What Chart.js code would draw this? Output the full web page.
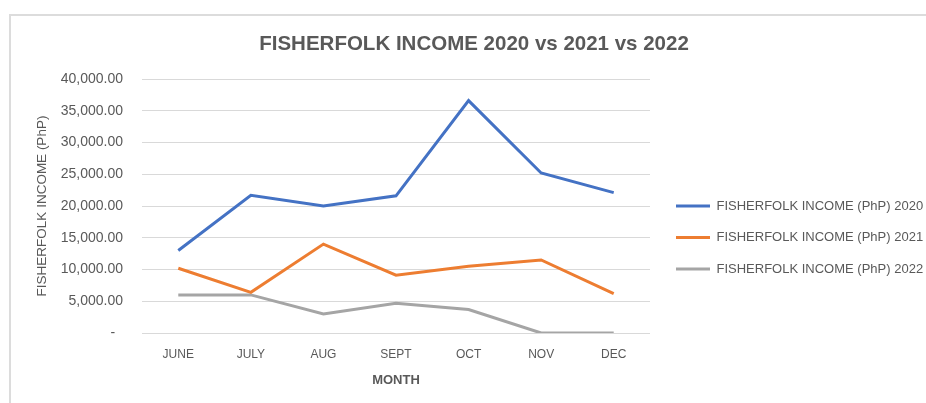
<!DOCTYPE html>
<html>
<head>
<meta charset="utf-8">
<script src="https://cdn.jsdelivr.net/npm/chart.js@4/dist/chart.umd.min.js"></script>
<style>
  html, body { margin: 0; padding: 0; background: #fff; }
  body { width: 926px; height: 403px; position: relative; overflow: hidden; }
  #frame { position: absolute; left: 9px; top: 14px; width: 1000px; height: 500px;
           border-left: 2px solid #dcdcdc; border-top: 2px solid #dcdcdc; }
  #chart { position: absolute; left: 0; top: 0; }
</style>
</head>
<body>
<div id="frame"></div>
<canvas id="chart" width="926" height="403"></canvas>
<script>
const months = ['JUNE', 'JULY', 'AUG', 'SEPT', 'OCT', 'NOV', 'DEC'];
const income2020 = [13000, 21700, 20000, 21600, 36600, 25200, 22100];
const income2021 = [10200, 6400, 14000, 9100, 10500, 11500, 6200];
const income2022 = [6000, 6000, 3000, 4700, 3700, 0, 0];

const grey = '#595959';
const font = 'Liberation Sans';

const makeSet = (label, data, color) => ({
  label: label,
  data: data,
  borderColor: color,
  backgroundColor: color,
  borderWidth: 3,
  pointRadius: 0,
  tension: 0
});

// fixed legend width, and push it down/right a bit like the excel one
const legendPlace = {
  id: 'legendPlace',
  beforeInit(chart) {
    const legend = chart.legend;
    const fit = legend.fit;
    legend.fit = function () {
      fit.call(this);
      this.width = 268;
    };
  },
  afterLayout(chart) {
    const lg = chart.legend;
    lg.top += 36;
    lg.bottom += 36;
    lg.left += 7.5;
    lg.right += 7.5;
  }
};

new Chart(document.getElementById('chart'), {
  type: 'line',
  data: {
    labels: months,
    datasets: [
      makeSet('FISHERFOLK INCOME (PhP) 2020', income2020, '#4472C4'),
      makeSet('FISHERFOLK INCOME (PhP) 2021', income2021, '#ED7D31'),
      makeSet('FISHERFOLK INCOME (PhP) 2022', income2022, '#A5A5A5')
    ]
  },
  plugins: [legendPlace],
  options: {
    responsive: false,
    animation: false,
    layout: { padding: { left: 30, right: 8, top: 0, bottom: 0 } },
    plugins: {
      title: {
        display: true,
        text: 'FISHERFOLK INCOME 2020 vs 2021 vs 2022',
        color: grey,
        font: { family: font, size: 20.5, weight: 'bold' },
        padding: { top: 32, bottom: 22.4 }
      },
      legend: {
        position: 'right',
        labels: {
          color: grey,
          font: { family: font, size: 13 },
          usePointStyle: true,
          pointStyle: 'line',
          pointStyleWidth: 34,
          boxHeight: 13,
          padding: 18.5
        }
      },
      tooltip: { enabled: false }
    },
    scales: {
      x: {
        offset: true,
        grid: { display: false, drawTicks: false },
        border: { display: false },
        ticks: { color: grey, font: { family: font, size: 12 }, padding: 14, maxRotation: 0 },
        title: {
          display: true,
          text: 'MONTH',
          color: grey,
          font: { family: font, size: 13, weight: 'bold' },
          padding: { top: 4, bottom: 15 }
        },
        afterFit(scale) { scale.height = 70; }
      },
      y: {
        min: 0,
        max: 40000,
        grid: { color: '#d9d9d9', lineWidth: 1, drawTicks: false },
        border: { display: false },
        ticks: {
          stepSize: 5000,
          color: grey,
          padding: 19,
          font: { family: font, size: 14 },
          callback: v => v === 0 ? '-  ' : v.toLocaleString('en-US', { minimumFractionDigits: 2 })
        },
        title: {
          display: true,
          text: 'FISHERFOLK INCOME (PhP)',
          color: grey,
          font: { family: font, size: 13.5 },
          padding: { top: 4, bottom: 4 }
        },
        afterFit(scale) { scale.width = 112; }
      }
    }
  }
});
</script>
</body>
</html>
